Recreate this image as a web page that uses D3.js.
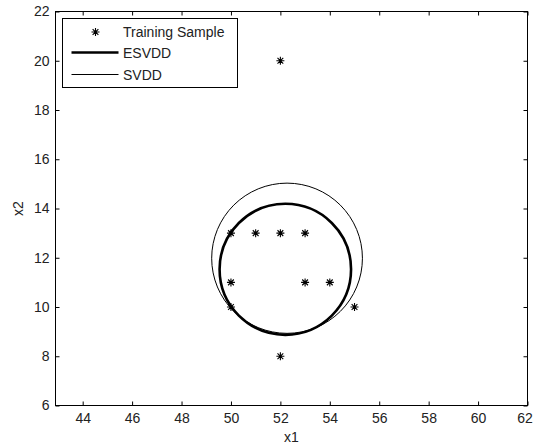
<!DOCTYPE html>
<html><head><meta charset="utf-8">
<script src="https://cdn.jsdelivr.net/npm/d3@7"></script>
<style>body{margin:0;background:#fff}svg{display:block}text{font-family:Arial,"Liberation Sans",sans-serif}</style>
</head><body>
<svg id="c" width="534" height="448"></svg>
<script>
// Data
const sampleX = [52, 50, 51, 52, 53, 50, 53, 54, 50, 55, 52];
const sampleY = [20, 13, 13, 13, 13, 11, 11, 11, 10, 10, 8];
const circleNames = ["ESVDD", "SVDD"];
const circleCx = [52.2, 52.27];
const circleCy = [11.53, 11.98];
const circleR = [2.66, 3.05];
const xTicks = [44, 46, 48, 50, 52, 54, 56, 58, 60, 62];
const yTicks = [6, 8, 10, 12, 14, 16, 18, 20, 22];
const legendLabels = ["Training Sample", "ESVDD", "SVDD"];

const svg = d3.select("#c");
const L = 55.5, R = 527.5, T = 11.5, B = 405.5;
const x = d3.scaleLinear().domain([42.9, 62]).range([L, R]);
const y = d3.scaleLinear().domain([6, 22]).range([B, T]);

svg.append("rect").attr("x", L).attr("y", T).attr("width", R - L).attr("height", B - T)
  .attr("fill", "#fff").attr("stroke", "#000").attr("stroke-width", 1);

const tickLen = 4;
function styleAxis(g, hideText) {
  g.select(".domain").remove();
  g.selectAll("line").attr("stroke", "#000");
  g.selectAll("text").attr("font-size", 14).attr("fill", "#222")
    .attr("font-family", "Arial, 'Liberation Sans', sans-serif");
  if (hideText) g.selectAll("text").remove();
}
svg.append("g").attr("transform", `translate(0,${B})`)
  .call(d3.axisBottom(x).tickValues(xTicks).tickSize(-tickLen).tickPadding(8).tickFormat(d3.format("d")))
  .call(g => styleAxis(g))
  .call(g => g.selectAll(".tick").filter(d => d === 62).select("text").attr("dx", -3));
svg.append("g").attr("transform", `translate(0,${T})`)
  .call(d3.axisTop(x).tickValues(xTicks).tickSize(-tickLen))
  .call(g => styleAxis(g, true));
svg.append("g").attr("transform", `translate(${L},0)`)
  .call(d3.axisLeft(y).tickValues(yTicks).tickSize(-tickLen).tickPadding(6).tickFormat(d3.format("d")))
  .call(g => styleAxis(g));
svg.append("g").attr("transform", `translate(${R},0)`)
  .call(d3.axisRight(y).tickValues(yTicks).tickSize(-tickLen))
  .call(g => styleAxis(g, true));

// axis labels
svg.append("text").attr("x", (L + R) / 2).attr("y", 442).attr("text-anchor", "middle")
  .attr("font-size", 14).attr("fill", "#222").text("x1");
svg.append("text").attr("transform", `translate(23,${(T + B) / 2}) rotate(-90)`)
  .attr("text-anchor", "middle").attr("font-size", 14).attr("fill", "#222").text("x2");

// circles
const widths = [2.6, 1];
circleNames.forEach((n, i) => {
  svg.append("ellipse")
    .attr("cx", x(circleCx[i])).attr("cy", y(circleCy[i]))
    .attr("rx", x(circleCx[i] + circleR[i]) - x(circleCx[i]))
    .attr("ry", y(circleCy[i]) - y(circleCy[i] + circleR[i]))
    .attr("fill", "none").attr("stroke", "#000").attr("stroke-width", widths[i]);
});

// star markers
function star(g, cx, cy, s) {
  const d = s * 0.72;
  g.append("path")
    .attr("d", `M${cx - s},${cy}H${cx + s}M${cx},${cy - s}V${cy + s}M${cx - d},${cy - d}L${cx + d},${cy + d}M${cx - d},${cy + d}L${cx + d},${cy - d}`)
    .attr("stroke", "#000").attr("stroke-width", 1.1).attr("fill", "none");
}
const pts = svg.append("g");
sampleX.forEach((v, i) => star(pts, x(v), y(sampleY[i]), 4));

// legend
const lg = svg.append("g");
lg.append("rect").attr("x", 62.5).attr("y", 18.5).attr("width", 175).attr("height", 69)
  .attr("fill", "#fff").attr("stroke", "#000");
star(lg, 95.5, 32, 4);
lg.append("line").attr("x1", 71.5).attr("x2", 118.5).attr("y1", 52.5).attr("y2", 52.5)
  .attr("stroke", "#000").attr("stroke-width", 2.6);
lg.append("line").attr("x1", 71.5).attr("x2", 118.5).attr("y1", 74.5).attr("y2", 74.5)
  .attr("stroke", "#000").attr("stroke-width", 1);
[32, 53, 75].forEach((yy, i) => {
  lg.append("text").attr("x", 123).attr("y", yy + 5).attr("font-size", 14).attr("fill", "#222")
    .text(legendLabels[i]);
});
</script>
</body></html>
